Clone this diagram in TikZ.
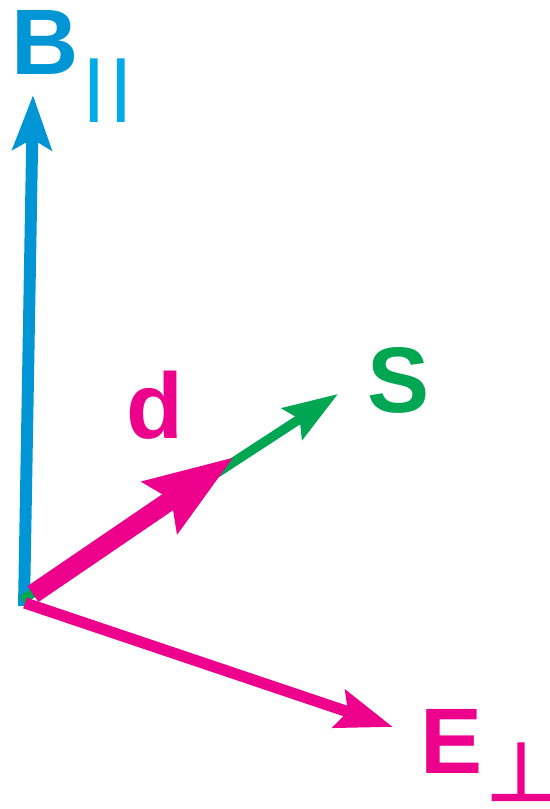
\documentclass[tikz,border=0pt]{standalone}
\usepackage{fontspec}
\setmainfont{Liberation Sans}
\newfontfamily\symfont[FakeBold=2.5]{DejaVu Sans}
\usetikzlibrary{arrows.meta}
\definecolor{fieldblue}{RGB}{0,150,214}
\definecolor{parblue}{RGB}{0,170,235}
\definecolor{spingreen}{RGB}{0,166,81}
\definecolor{dipmagenta}{RGB}{236,0,140}
\tikzset{
  vlabel/.style={inner sep=0pt, font=\fontsize{53}{60}\selectfont\bfseries},
  sublabel/.style={inner sep=0pt, font=\fontsize{50}{60}\selectfont}
}

\begin{document}
\begin{tikzpicture}[x=0.02cm,y=-0.02cm]
\useasboundingbox (0,0) rectangle (550,809);
% start and tip points (pixel grid)
\coordinate (oB) at (24,606);
\coordinate (tB) at (33,95);
\coordinate (oS) at (22,600);
\coordinate (tS) at (338,394);
\coordinate (od) at (33,594);
\coordinate (td) at (234,457);
\coordinate (oE) at (25,603);
\coordinate (tE) at (393,727);

\draw[fieldblue, line width=6.8pt, -{Stealth[length=31pt,width=22pt,inset=6pt]}] (oB) -- (tB);
\draw[spingreen, line width=5.4pt, -{Stealth[length=31pt,width=21pt,inset=5pt]}] (oS) -- (tS);
\draw[dipmagenta, line width=6.4pt, -{Stealth[length=32pt,width=22pt,inset=5pt]}] (oE) -- (tE);
\draw[dipmagenta, line width=11pt, -{Stealth[length=50pt,width=34pt,inset=7pt]}] (od) -- (td);

\node[vlabel, text=fieldblue] (B) at (45,42) {B};
\node[sublabel, text=parblue] (Bpar) at (108,91) {l\kern4pt l};
\node[vlabel, text=spingreen] (S) at (399,380) {S};
\node[vlabel, text=dipmagenta] (d) at (155,405) {d};
\node[vlabel, text=dipmagenta] (E) at (452,741) {E};
\node[inner sep=0pt, anchor=base, text=dipmagenta, font=\symfont\fontsize{46}{50}\selectfont] (Eperp) at (521,800) {⊥};
\end{tikzpicture}
\end{document}
